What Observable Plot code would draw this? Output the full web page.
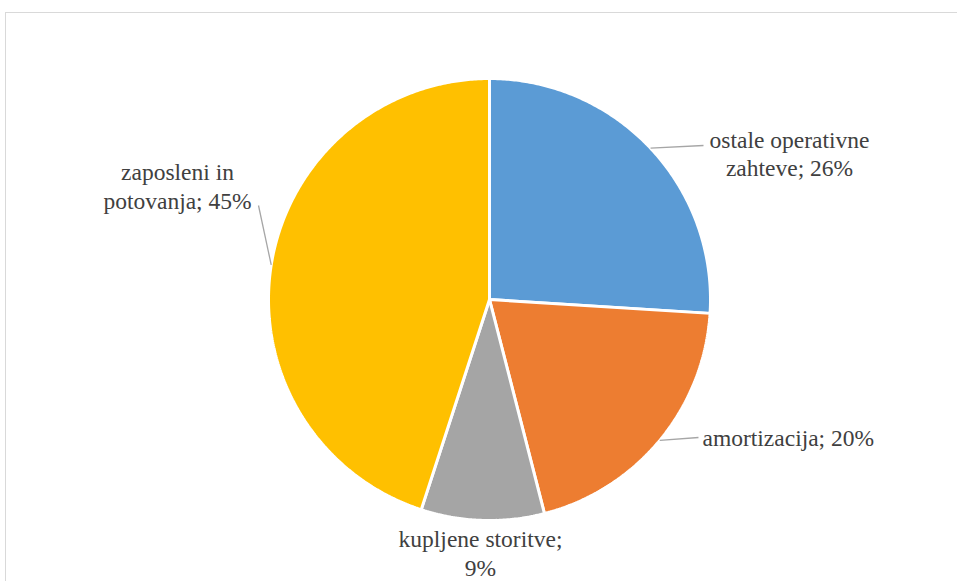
<!DOCTYPE html>
<html>
<head>
<meta charset="utf-8">
<script src="https://cdn.jsdelivr.net/npm/d3@7"></script>
<script src="https://cdn.jsdelivr.net/npm/@observablehq/plot@0.6"></script>
<style>
  html, body { margin: 0; padding: 0; background: #fff; overflow: hidden; }
  #wrap { position: relative; width: 957px; height: 581px; overflow: hidden; }
  #border { position: absolute; left: 5px; top: 12px; width: 1200px; height: 1200px; border: 1px solid #d9d9d9; box-sizing: border-box; }
  #chart { position: absolute; left: 0; top: 0; }
</style>
</head>
<body>
<div id="wrap"><div id="border"></div><div id="chart"></div></div>
<script>
// ---- data ----
const categories = ["ostale operativne zahteve", "amortizacija", "kupljene storitve", "zaposleni in potovanja"];
const values = [26, 20, 9, 45];
const labelTexts = ["ostale operativne\nzahteve; 26%", "amortizacija; 20%", "kupljene storitve;\n9%", "zaposleni in\npotovanja; 45%"];
const colors = ["#5B9BD5", "#ED7D31", "#A5A5A5", "#FFC000"];

// ---- layout (pixels in the 957x581 frame) ----
const W = 957, H = 581, CX = 489, CY = 299, R = 221;
const labelLayout = [
  {x: 789, y: 152.4, anchor: "middle", leader: [703, 145]},
  {x: 702, y: 436.5, anchor: "start",  leader: [698, 437]},
  {x: 480, y: 552, anchor: "middle", leader: null},
  {x: 177, y: 184.7, anchor: "middle", leader: [258, 205]}
];
const ux = px => (px - CX) / R;
const uy = py => (CY - py) / R;

// ---- geometry from values ----
const arcs = d3.pie().sort(null).value(d => d)(values);
const pts = [];
arcs.forEach((a, i) => {
  const name = categories[i];
  pts.push({name, x: 0, y: 0});
  const steps = Math.max(4, Math.ceil((a.endAngle - a.startAngle) / (Math.PI / 360)));
  for (let k = 0; k <= steps; k++) {
    const t = a.startAngle + (a.endAngle - a.startAngle) * k / steps;
    pts.push({name, x: Math.sin(t), y: Math.cos(t)});
  }
  pts.push({name, x: 0, y: 0});
});

const labels = arcs.map((a, i) => {
  const mid = (a.startAngle + a.endAngle) / 2;
  const L = labelLayout[i];
  return {
    name: categories[i], text: labelTexts[i], anchor: L.anchor,
    tx: ux(L.x), ty: uy(L.y),
    ex: Math.sin(mid), ey: Math.cos(mid),
    lx: L.leader ? ux(L.leader[0]) : null, ly: L.leader ? uy(L.leader[1]) : null
  };
});
const leaders = labels.filter(d => d.lx !== null);

const chart = Plot.plot({
  width: W, height: H,
  marginLeft: CX - R, marginRight: W - CX - R,
  marginTop: CY - R, marginBottom: H - CY - R,
  x: {domain: [-1, 1], axis: null},
  y: {domain: [-1, 1], axis: null},
  color: {domain: categories, range: colors},
  style: {background: "transparent", overflow: "visible"},
  marks: [
    Plot.line(pts, {x: "x", y: "y", z: "name", fill: "name", stroke: "white", strokeWidth: 3, strokeLinejoin: "miter", curve: "linear"}),
    Plot.link(leaders, {x1: "ex", y1: "ey", x2: "lx", y2: "ly", stroke: "#a6a6a6", strokeWidth: 1.3}),
    ...["middle", "start"].map(anc => Plot.text(labels.filter(d => d.anchor === anc), {
      x: "tx", y: "ty", text: "text", textAnchor: anc, lineAnchor: "middle", lineHeight: 1.213,
      fontSize: 23.5, fill: "#404040", fontFamily: "Liberation Serif"
    }))
  ]
});
document.getElementById("chart").appendChild(chart);
</script>
</body>
</html>
